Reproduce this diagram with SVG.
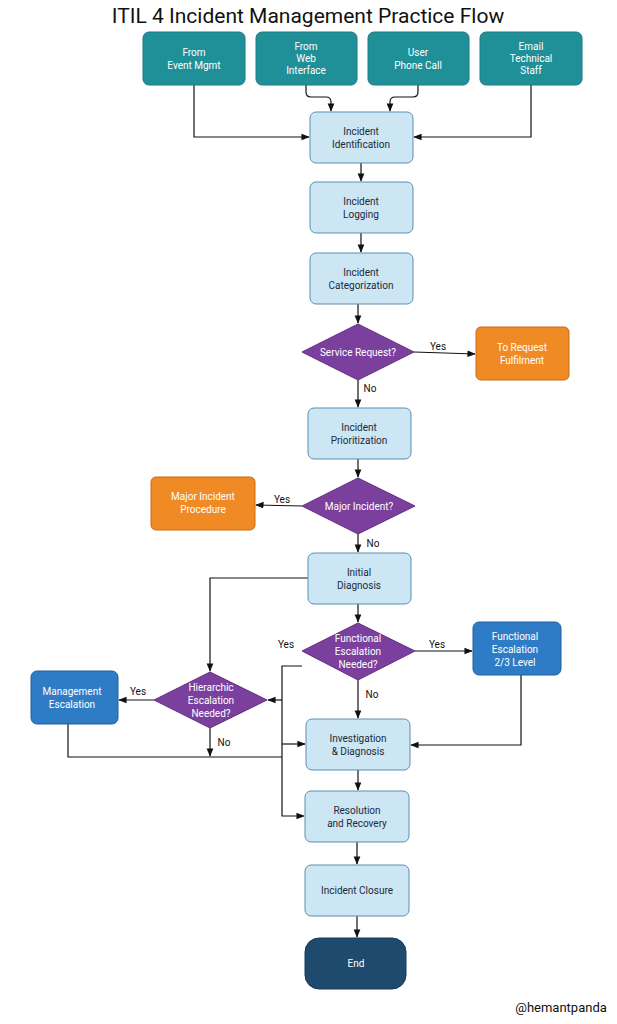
<svg xmlns="http://www.w3.org/2000/svg" width="617" height="1024" viewBox="0 0 617 1024">
<defs>
<marker id="ah" viewBox="0 0 10 10" refX="9" refY="5" markerWidth="7" markerHeight="7" orient="auto-start-reverse"><path d="M0,1 L10,5 L0,9 z" fill="#111"/></marker>
<style>
text{font-family:Roboto,"Liberation Sans",sans-serif;text-anchor:middle}
.t{font-size:10px;fill:#fff}
.d{font-size:10px;fill:#1a2a3a}
.l{font-size:10px;fill:#111}
.src{fill:#1f8f98;stroke:#187a82}
.proc{fill:#cde6f4;stroke:#5a8fb3}
.dia{fill:#7b3f9e;stroke:#63307f}
.org{fill:#f08a24;stroke:#c86d14}
.blu{fill:#2f7cc6;stroke:#225f9c}
.end{fill:#1e4a6e;stroke:#163a58}
#c path{fill:none;stroke:#111;stroke-width:1.2}
</style>
</defs>
<rect width="617" height="1024" fill="#fff"/>
<text x="308" y="23" style="font-size:21px;fill:#111">ITIL 4 Incident Management Practice Flow</text>
<g id="c">
<path d="M194,85 V137 H309" marker-end="url(#ah)"/>
<path d="M306,85 V92 Q306,97 311,97 H326 Q331,97 331,102 V111" marker-end="url(#ah)"/>
<path d="M418,85 V92 Q418,97 413,97 H395 Q390,97 390,102 V111" marker-end="url(#ah)"/>
<path d="M531,85 V137 H414" marker-end="url(#ah)"/>
<path d="M361,163 V181" marker-end="url(#ah)"/>
<path d="M361,233 V252" marker-end="url(#ah)"/>
<path d="M358,304 V323" marker-end="url(#ah)"/>
<path d="M414,352 L475,354" marker-end="url(#ah)"/>
<path d="M358,380 V407" marker-end="url(#ah)"/>
<path d="M358,459 V477" marker-end="url(#ah)"/>
<path d="M302,506 L256,505" marker-end="url(#ah)"/>
<path d="M358,534 V552" marker-end="url(#ah)"/>
<path d="M308,578 H210 V671" marker-end="url(#ah)"/>
<path d="M358,604 V622" marker-end="url(#ah)"/>
<path d="M415,651 H472" marker-end="url(#ah)"/>
<path d="M302,666 H282 V816 H304" marker-end="url(#ah)"/>
<path d="M282,700 H268" marker-end="url(#ah)"/>
<path d="M282,744 H305" marker-end="url(#ah)"/>
<path d="M154,700 H119" marker-end="url(#ah)"/>
<path d="M210,728 V756" marker-end="url(#ah)"/>
<path d="M68,724 V757 H282"/>
<path d="M521,675 V745 H411" marker-end="url(#ah)"/>
<path d="M358,680 V718" marker-end="url(#ah)"/>
<path d="M358,770 V790" marker-end="url(#ah)"/>
<path d="M357,842 V864" marker-end="url(#ah)"/>
<path d="M357,916 V937" marker-end="url(#ah)"/>
</g>
<g id="labels" class="l">
<text class="l" x="438" y="350">Yes</text>
<text class="l" x="370" y="392">No</text>
<text class="l" x="282" y="503">Yes</text>
<text class="l" x="373" y="547">No</text>
<text class="l" x="437" y="648">Yes</text>
<text class="l" x="286" y="648">Yes</text>
<text class="l" x="138" y="695">Yes</text>
<text class="l" x="372" y="698">No</text>
<text class="l" x="224" y="746">No</text>
</g>
<g id="n1"><rect class="src" x="143" y="32" width="102" height="53" rx="6"/><text class="t" x="194" y="56">From</text><text class="t" x="194" y="69">Event Mgmt</text></g>
<g id="n2"><rect class="src" x="256" y="32" width="101" height="53" rx="6"/><text class="t" x="306" y="50">From</text><text class="t" x="306" y="62">Web</text><text class="t" x="306" y="74">Interface</text></g>
<g id="n3"><rect class="src" x="368" y="32" width="101" height="53" rx="6"/><text class="t" x="418" y="56">User</text><text class="t" x="418" y="69">Phone Call</text></g>
<g id="n4"><rect class="src" x="480" y="32" width="102" height="53" rx="6"/><text class="t" x="531" y="50">Email</text><text class="t" x="531" y="62">Technical</text><text class="t" x="531" y="74">Staff</text></g>
<g id="n5"><rect class="proc" x="310" y="112" width="103" height="51" rx="6"/><text class="d" x="361" y="135">Incident</text><text class="d" x="361" y="148">Identification</text></g>
<g id="n6"><rect class="proc" x="310" y="182" width="103" height="51" rx="6"/><text class="d" x="361" y="205">Incident</text><text class="d" x="361" y="218">Logging</text></g>
<g id="n7"><rect class="proc" x="310" y="253" width="103" height="51" rx="6"/><text class="d" x="361" y="276">Incident</text><text class="d" x="361" y="289">Categorization</text></g>
<g id="n8"><polygon class="dia" points="358,324 414,352 358,380 302,352"/><text class="t" x="358" y="356">Service Request?</text></g>
<g id="n9"><rect class="org" x="476" y="327" width="93" height="53" rx="5"/><text class="t" x="522" y="351">To Request</text><text class="t" x="522" y="364">Fulfilment</text></g>
<g id="n10"><rect class="proc" x="308" y="408" width="103" height="51" rx="6"/><text class="d" x="359" y="431">Incident</text><text class="d" x="359" y="444">Prioritization</text></g>
<g id="n11"><polygon class="dia" points="358,478 415,506 358,534 302,506"/><text class="t" x="359" y="510">Major Incident?</text></g>
<g id="n12"><rect class="org" x="151" y="477" width="104" height="53" rx="5"/><text class="t" x="203" y="500">Major Incident</text><text class="t" x="203" y="513">Procedure</text></g>
<g id="n13"><rect class="proc" x="308" y="553" width="103" height="51" rx="6"/><text class="d" x="359" y="576">Initial</text><text class="d" x="359" y="589">Diagnosis</text></g>
<g id="n14"><polygon class="dia" points="358,623 415,651 358,680 302,651"/><text class="t" x="358" y="642">Functional</text><text class="t" x="358" y="655">Escalation</text><text class="t" x="358" y="668">Needed?</text></g>
<g id="n15"><rect class="blu" x="473" y="622" width="88" height="53" rx="6"/><text class="t" x="515" y="640">Functional</text><text class="t" x="515" y="653">Escalation</text><text class="t" x="515" y="666">2/3 Level</text></g>
<g id="n16"><polygon class="dia" points="210,672 267,700 210,728 154,700"/><text class="t" x="211" y="691">Hierarchic</text><text class="t" x="211" y="704">Escalation</text><text class="t" x="211" y="717">Needed?</text></g>
<g id="n17"><rect class="blu" x="31" y="671" width="87" height="53" rx="6"/><text class="t" x="72" y="695">Management</text><text class="t" x="72" y="708">Escalation</text></g>
<g id="n18"><rect class="proc" x="306" y="719" width="104" height="51" rx="6"/><text class="d" x="358" y="742">Investigation</text><text class="d" x="358" y="755">&amp; Diagnosis</text></g>
<g id="n19"><rect class="proc" x="305" y="791" width="104" height="51" rx="6"/><text class="d" x="357" y="814">Resolution</text><text class="d" x="357" y="827">and Recovery</text></g>
<g id="n20"><rect class="proc" x="305" y="865" width="104" height="51" rx="6"/><text class="d" x="357" y="894">Incident Closure</text></g>
<g id="n21"><rect class="end" x="305" y="938" width="101" height="51" rx="14"/><text class="t" x="356" y="967">End</text></g>
<text x="561" y="1012" style="font-size:13px;fill:#111">@hemantpanda</text>
</svg>
